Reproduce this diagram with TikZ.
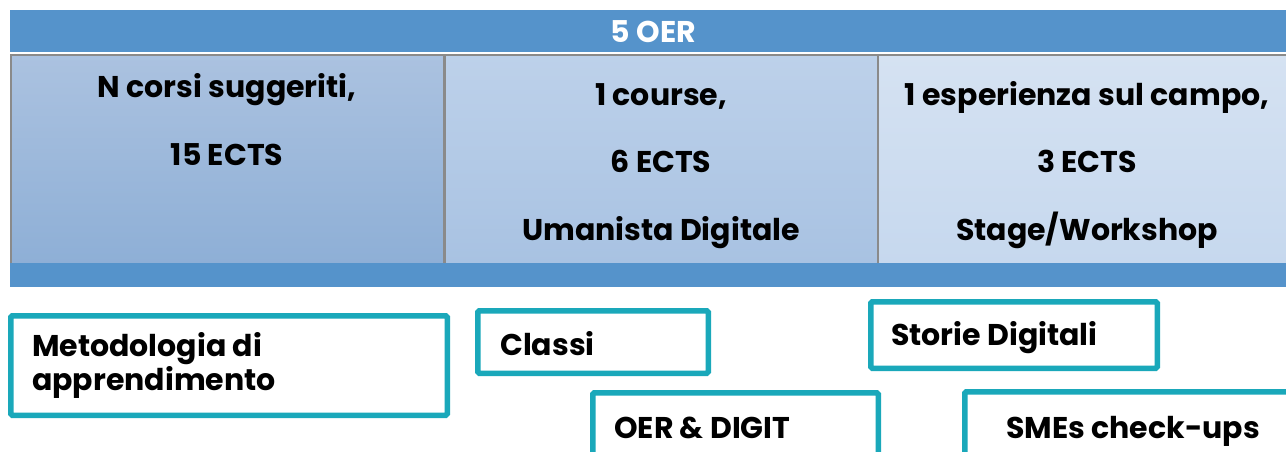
\documentclass[tikz,border=0pt]{standalone}
\usepackage{fontspec}
\setmainfont{Poppins}
\usetikzlibrary{calc}
\definecolor{barblue}{HTML}{5593CB}
\definecolor{cellgray}{HTML}{8A8A8A}
\definecolor{tealbox}{HTML}{1AA8BA}
\definecolor{c1top}{HTML}{ABC2E0}
\definecolor{c1bot}{HTML}{8EAFD6}
\definecolor{c2top}{HTML}{BDD1EA}
\definecolor{c2bot}{HTML}{A8C2E2}
\definecolor{c3top}{HTML}{D5E2F2}
\definecolor{c3bot}{HTML}{C6D8EE}
\begin{document}
\begin{tikzpicture}[x=1pt,y=-1pt,
  bar/.style={fill=barblue, draw=none, anchor=north west, inner sep=0pt},
  cell/.style={draw=cellgray, line width=1.5pt, anchor=north west, inner sep=0pt, minimum width=433pt, minimum height=209pt},
  ctext/.style={font=\bfseries\fontsize{30}{67.5}\selectfont, align=center, anchor=base, inner sep=0pt},
  tbox/.style={draw=tealbox, line width=5.5pt, fill=white, rounded corners=1.5pt, anchor=north west, inner sep=0pt},
  btext/.style={font=\bfseries\fontsize{30}{30}\selectfont, align=left, anchor=base west, inner sep=0pt}]
\useasboundingbox (0,0) rectangle (1286,451);
\clip (0,0) rectangle (1286,451);
\fill[white] (0,0) rectangle (1286,451);
% header
\node[bar, minimum width=1286pt, minimum height=42pt, text=white, font=\bfseries\fontsize{30}{36}\selectfont] (hdr) at (10,10) {5 OER};
% cells
\node[cell, top color=c1top, bottom color=c1bot] (c1) at (10,54) {};
\node[cell, top color=c2top, bottom color=c2bot] (c2) at (444,54) {};
\node[cell, top color=c3top, bottom color=c3bot] (c3) at (877,54) {};
\node[ctext] (t1) at (227,165) {N corsi suggeriti,\\15 ECTS};
\node[ctext] (t2) at (661,240) {1 course,\\6 ECTS\\Umanista Digitale};
\node[ctext] (t3) at (1087,240) {1 esperienza sul campo,\\3 ECTS\\Stage/Workshop};
% bottom bar
\node[bar, minimum width=1300pt, minimum height=24pt] (ftr) at (10,263) {};
% boxes
\node[tbox, minimum width=436.5pt, minimum height=99.5pt] (b1) at (8,313) {};
\node[tbox, minimum width=230.5pt, minimum height=62.5pt] (b2) at (475,308) {};
\node[tbox, minimum width=285.5pt, minimum height=80pt] (b3) at (590,390) {};
\node[tbox, minimum width=286.5pt, minimum height=66.5pt] (b4) at (868,299) {};
\node[tbox, minimum width=360pt, minimum height=80pt] (b5) at (962,389) {};
\node[btext] (l1) at (32,390) {Metodologia di\\apprendimento};
\node[btext] (l2) at (500,355) {Classi};
\node[btext] (l3) at (614,438) {OER \& DIGIT};
\node[btext] (l4) at (891,345) {Storie Digitali};
\node[btext] (l5) at (1006,438) {SMEs check-ups};
\end{tikzpicture}
\end{document}
